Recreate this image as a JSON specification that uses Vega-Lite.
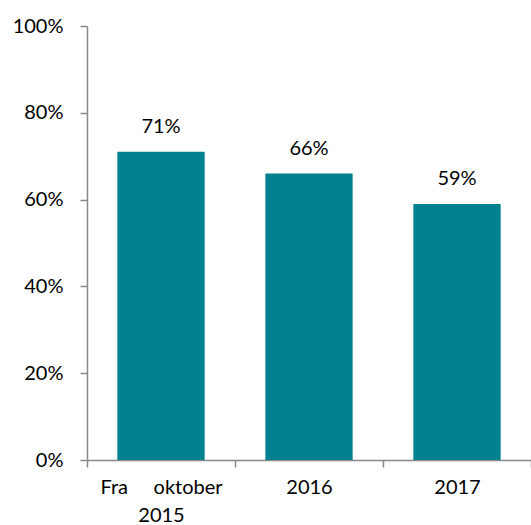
{
  "$schema": "https://vega.github.io/schema/vega-lite/v6.json",
  "width": 444,
  "height": 434,
  "autosize": "none",
  "padding": {"left": 87, "top": 26, "right": 0, "bottom": 65},
  "background": "white",
  "config": {"view": {"stroke": null}, "font": "Lato"},
  "data": {
    "values": [
      {"period": "Fra oktober 2015", "share": 0.71, "label": "71%"},
      {"period": "2016", "share": 0.66, "label": "66%"},
      {"period": "2017", "share": 0.59, "label": "59%"}
    ]
  },
  "encoding": {
    "x": {
      "field": "period",
      "type": "nominal",
      "sort": null,
      "scale": {"paddingInner": 0, "paddingOuter": 0},
      "axis": {
        "title": null,
        "labelAngle": 0,
        "labelFont": "Lato",
        "labelFontSize": 20,
        "labelColor": "#000000",
        "labelPadding": 10,
        "labelLineHeight": 28,
        "labelExpr": "datum.value == 'Fra oktober 2015' ? ['Fra\u00a0\u00a0\u00a0\u00a0\u00a0oktober', '2015'] : datum.value",
        "domainColor": "#888888",
        "domainWidth": 1.5,
        "tickColor": "#888888",
        "tickWidth": 1.5,
        "tickSize": 7,
        "tickBand": "extent",
        "grid": false
      }
    },
    "y": {
      "field": "share",
      "type": "quantitative",
      "scale": {"domain": [0, 1]},
      "axis": {
        "title": null,
        "format": ".0%",
        "values": [0, 0.2, 0.4, 0.6, 0.8, 1],
        "labelFont": "Lato",
        "labelFontSize": 20,
        "labelColor": "#000000",
        "labelPadding": 17,
        "domainColor": "#888888",
        "domainWidth": 1.5,
        "tickColor": "#888888",
        "tickWidth": 1.5,
        "tickSize": 7,
        "grid": false
      }
    }
  },
  "layer": [
    {"mark": {"type": "bar", "color": "#00818F", "width": {"band": 0.59}}},
    {
      "mark": {"type": "text", "baseline": "alphabetic", "dy": -19, "font": "Lato", "fontSize": 20, "color": "#000000"},
      "encoding": {"text": {"field": "label"}}
    }
  ]
}
